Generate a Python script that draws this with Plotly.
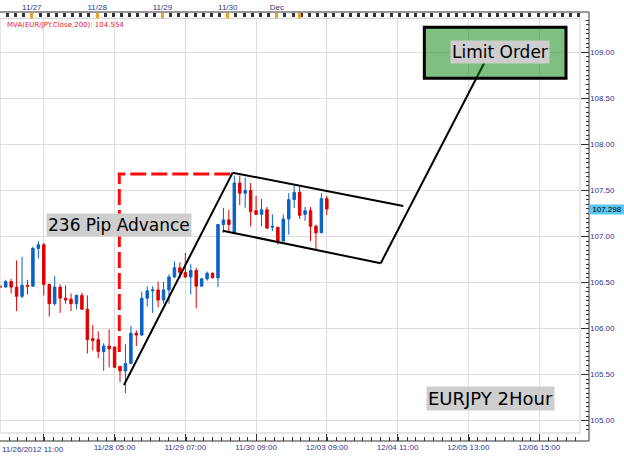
import plotly.graph_objects as go

# ---------------- data ----------------
bar_index = list(range(61))
opens = [106.46, 106.45, 106.51, 106.45, 106.35, 106.47, 106.46, 106.87, 106.91, 106.48,
         106.27, 106.45, 106.33, 106.32, 106.27, 106.36, 106.21, 105.89, 105.88, 105.75,
         105.81, 105.80, 105.59, 105.54, 105.62, 105.95, 105.93, 106.33, 106.41, 106.42,
         106.31, 106.42, 106.56, 106.66, 106.61, 106.56, 106.63, 106.46, 106.54, 106.60,
         106.55, 107.13, 107.18, 107.03, 107.58, 107.47, 107.50, 107.28, 107.24, 107.29,
         107.10, 107.10, 106.95, 107.19, 107.40, 107.48, 107.24, 107.28, 107.11, 107.04,
         107.41]
highs = [106.47, 106.53, 106.54, 106.74, 106.78, 106.53, 106.89, 106.95, 106.93, 106.48,
         106.57, 106.48, 106.47, 106.38, 106.37, 106.39, 106.36, 106.04, 105.97, 105.84,
         105.99, 105.80, 105.59, 105.83, 106.03, 105.98, 106.40, 106.46, 106.46, 106.51,
         106.51, 106.59, 106.73, 106.72, 106.82, 106.70, 106.66, 106.55, 106.62, 106.61,
         107.13, 107.31, 107.29, 107.66, 107.66, 107.64, 107.58, 107.44, 107.41, 107.32,
         107.24, 107.10, 107.24, 107.47, 107.55, 107.54, 107.32, 107.32, 107.13, 107.47,
         107.44]
lows = [106.44, 106.45, 106.38, 106.19, 106.33, 106.37, 106.46, 106.76, 106.36, 106.13,
        106.25, 106.17, 106.27, 106.19, 106.21, 106.21, 105.73, 105.76, 105.68, 105.54,
        105.58, 105.57, 105.42, 105.30, 105.62, 105.81, 105.92, 106.24, 106.17, 106.23,
        106.27, 106.27, 106.55, 106.55, 106.55, 106.37, 106.22, 106.46, 106.52, 106.55,
        106.45, 107.04, 107.05, 107.03, 107.34, 107.31, 107.11, 107.24, 107.11, 107.09,
        107.06, 106.91, 106.95, 107.02, 107.31, 107.19, 107.17, 106.95, 106.86, 107.04,
        107.23]
closes = [106.45, 106.51, 106.45, 106.35, 106.47, 106.46, 106.87, 106.91, 106.48, 106.27,
          106.45, 106.33, 106.31, 106.27, 106.36, 106.21, 105.88, 105.87, 105.75, 105.81,
          105.78, 105.58, 105.54, 105.62, 105.95, 105.93, 106.33, 106.41, 106.42, 106.31,
          106.42, 106.56, 106.66, 106.61, 106.56, 106.63, 106.46, 106.54, 106.60, 106.55,
          107.13, 107.18, 107.13, 107.58, 107.47, 107.50, 107.27, 107.24, 107.29, 107.09,
          107.11, 106.95, 107.19, 107.40, 107.48, 107.23, 107.28, 107.11, 107.04, 107.41,
          107.298]

last_price = 107.298
mva_text = "MVA(EUR/JPY.Close,200): 104.554"

bottom_tick_pos = [8, 21, 34, 47, 60, 73, 86, 99]
bottom_tick_text = ["", "11/28 05:00", "11/29 07:00", "11/30 09:00", "12/03 09:00",
                    "12/04 11:00", "12/05 13:00", "12/06 15:00"]
first_label = "11/26/2012 11:00"
top_tick_pos = [5.8, 17.8, 29.8, 41.8, 50.8, 54.9]
top_tick_text = ["11/27", "11/28", "11/29", "11/30", "Dec", ""]
price_ticks = [105.0, 105.5, 106.0, 106.5, 107.0, 107.5, 108.0, 108.5, 109.0]

# drawn annotations (bar index, price)
advance_x = [22.73, 42.70]
advance_y = [105.388, 107.693]
pip_x = [21.87, 21.87, 42.81]
pip_y = [105.746, 107.679, 107.679]
upper_x = [42.70, 74.05]
upper_y = [107.693, 107.331]
lower_x = [40.87, 69.90]
lower_y = [107.063, 106.709]
proj_x = [69.90, 88.93]
proj_y = [106.709, 108.887]
target_x = [77.91, 103.94]
target_y = [108.718, 109.271]

labels = ["236 Pip Advance", "Limit Order", "EURJPY 2Hour"]
label_x = [21.87, 91.8, 90.03]
label_y = [107.12, 109.005, 105.244]
label_size = [17, 17, 18]

# ---------------- figure ----------------
x_range = [-0.048, 106.51]
y_range = [104.866, 109.369]
tick_color = "#35358a"
tick_font = dict(family="Liberation Sans", size=8, color=tick_color)

fig = go.Figure()
fig.add_trace(go.Candlestick(
    x=bar_index, open=opens, high=highs, low=lows, close=closes,
    increasing=dict(line=dict(color="#0a62c6", width=1), fillcolor="#0a62c6"),
    decreasing=dict(line=dict(color="#e00000", width=1), fillcolor="#e00000"),
    whiskerwidth=0, hoverinfo="skip", showlegend=False,
))

line_sets = [
    (pip_x, pip_y, dict(color="#ff0a0a", width=3, dash="16px,5px")),
    (advance_x, advance_y, dict(color="black", width=2)),
    (upper_x, upper_y, dict(color="black", width=2)),
    (lower_x, lower_y, dict(color="black", width=2)),
    (proj_x, proj_y, dict(color="black", width=2)),
]

fig.add_shape(type="rect", xref="x", yref="y",
              x0=target_x[0], x1=target_x[1], y0=target_y[0], y1=target_y[1],
              fillcolor="rgba(0,128,0,0.5)", line=dict(color="black", width=3),
              layer="above")

for xs, ys, ln in line_sets:
    fig.add_trace(go.Scatter(x=xs, y=ys, mode="lines", line=ln,
                             hoverinfo="skip", showlegend=False))

# invisible trace to activate top axis
fig.add_trace(go.Scatter(x=[bar_index[0]], y=[closes[0]], xaxis="x2", mode="markers",
                         marker=dict(opacity=0), hoverinfo="skip", showlegend=False))

for t, x, y, s in zip(labels, label_x, label_y, label_size):
    fig.add_annotation(x=x, y=y, xref="x", yref="y", text=t, showarrow=False,
                       font=dict(family="DejaVu Sans", size=s, color="black"),
                       bgcolor="#cecece", borderpad=1)

fig.add_annotation(x=0.008, y=0.970, xref="paper", yref="paper", text=mva_text,
                   showarrow=False, xanchor="left", yanchor="middle",
                   font=dict(family="DejaVu Sans", size=7, color="#ee1133"))
fig.add_annotation(x=1, y=last_price, xref="paper", yref="y", text=f"{last_price:.3f}",
                   showarrow=False, xanchor="left", yanchor="middle",
                   font=dict(family="Liberation Sans", size=8, color="black"),
                   bgcolor="#5cc6f2", borderpad=0, width=34)
fig.add_annotation(x=bar_index[0], y=0, xref="x", yref="paper", text=first_label,
                   showarrow=False, xanchor="left", yanchor="top", yshift=-2,
                   font=tick_font)

# frame lines
for x0, y0, x1, y1 in [(0, 1, 1, 1), (0, 0, 1, 0), (1, 0, 1, 1)]:
    fig.add_shape(type="line", xref="paper", yref="paper", x0=x0, y0=y0, x1=x1, y1=y1,
                  line=dict(color="#333333", width=1))
fig.add_shape(type="rect", xref="x domain", yref="y domain", x0=0, x1=1, y0=0, y1=1,
              line=dict(color="#cfcfcf", width=1), layer="above")

fig.update_layout(
    width=624, height=456,
    margin=dict(l=0, r=35, t=12, b=15, autoexpand=False),
    paper_bgcolor="white", plot_bgcolor="white",
    showlegend=False, boxgap=0.35,
    xaxis=dict(
        domain=[0, 580 / 589], range=x_range, anchor="free", position=0,
        automargin=False,
        showgrid=True, gridcolor="#dedede", gridwidth=1, zeroline=False,
        showline=False, rangeslider=dict(visible=False),
        tickmode="array", tickvals=bottom_tick_pos, ticktext=bottom_tick_text,
        ticks="inside", ticklen=7, tickcolor="#333333", tickfont=tick_font,
        minor=dict(ticks="inside", ticklen=4, tickcolor="#333333", tickmode="linear",
                   tick0=0, dtick=1.625, showgrid=False),
    ),
    xaxis2=dict(
        overlaying="x", side="top", anchor="free", position=1, range=x_range,
        automargin=False,
        showgrid=False, zeroline=False, showline=False,
        tickmode="array", tickvals=top_tick_pos, ticktext=top_tick_text,
        ticks="inside", ticklen=6, tickwidth=3, tickcolor="#f0a020", tickfont=tick_font,
        minor=dict(ticks="inside", ticklen=4, tickcolor="#333333", tickmode="linear",
                   tick0=5.8, dtick=1.5, showgrid=False),
    ),
    yaxis=dict(
        domain=[8 / 429, 422.7 / 429], range=y_range, side="right", anchor="free",
        position=1, automargin=False,
        showgrid=True, gridcolor="#dedede", gridwidth=1, zeroline=False,
        showline=False, tickmode="array", tickvals=price_ticks, tickformat=".2f",
        ticks="inside", ticklen=8, tickcolor="#333333", tickfont=tick_font,
        minor=dict(ticks="inside", ticklen=3, tickcolor="#333333", tickmode="linear",
                   tick0=105, dtick=0.05, showgrid=False),
    ),
)

fig.write_html("out.html",
               config={"displayModeBar": False},
               post_script="document.body.style.margin='0';document.body.style.padding='0';")
